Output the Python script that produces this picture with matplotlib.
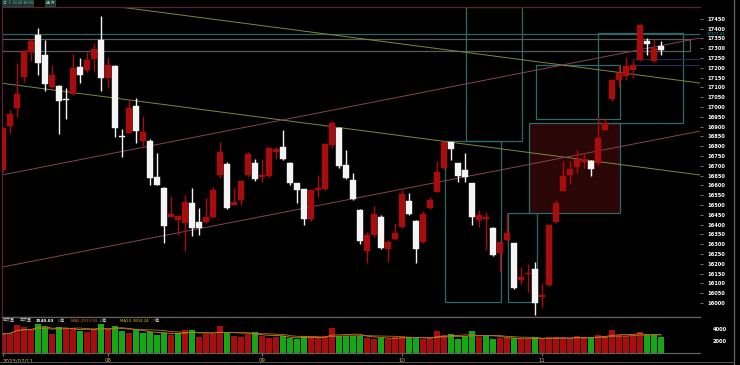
import matplotlib
matplotlib.use('Agg')
import matplotlib.pyplot as plt
from matplotlib.patches import Rectangle
from matplotlib.lines import Line2D
import matplotlib.transforms as mtrans
import numpy as np
import pandas as pd

# ---------------- data ----------------
opens = [16680, 16905, 16994, 17152, 17280, 17368, 17264, 17104, 17107, 17040,
         17066, 17205, 17188, 17244, 17341, 17146, 17209, 16852, 16868, 17005,
         16828, 16828, 16644, 16585, 16440, 16423, 16409, 16511, 16414, 16414,
         16440, 16652, 16709, 16500, 16525, 16655, 16712, 16641, 16646, 16770,
         16797, 16715, 16610, 16580, 16427, 16575, 16580, 16806, 16894, 16704,
         16627, 16474, 16266, 16346, 16440, 16274, 16325, 16386, 16520, 16420,
         16312, 16483, 16568, 16688, 16819, 16712, 16678, 16610, 16423, 16430,
         16384, 16256, 16321, 16304, 16116, 16146, 16171, 16028, 16091, 16414,
         16573, 16652, 16695, 16720, 16726, 16712, 16882, 17039, 17137, 17158,
         17190, 17239, 17335, 17235, 17310]
highs = [16900, 16984, 17224, 17290, 17346, 17402, 17341, 17214, 17110, 17097,
         17270, 17250, 17282, 17328, 17464, 17254, 17212, 16888, 17035, 17045,
         16954, 16835, 16766, 16590, 16545, 16448, 16550, 16586, 16484, 16535,
         16591, 16822, 16720, 16586, 16625, 16770, 16737, 16737, 16797, 16797,
         16882, 16720, 16612, 16582, 16580, 16652, 16815, 16928, 16900, 16780,
         16665, 16480, 16363, 16495, 16450, 16320, 16410, 16577, 16560, 16425,
         16470, 16541, 16726, 16822, 16822, 16715, 16767, 16612, 16474, 16462,
         16390, 16315, 16457, 16306, 16182, 16200, 16211, 16100, 16400, 16525,
         16722, 16722, 16780, 16763, 16730, 16955, 16943, 17140, 17215, 17255,
         17240, 17425, 17350, 17345, 17335]
lows = [16670, 16867, 16949, 17127, 17234, 17163, 17083, 17096, 16862, 16940,
        17060, 17122, 17180, 17180, 17083, 17096, 16845, 16746, 16866, 16815,
        16797, 16601, 16601, 16307, 16440, 16347, 16266, 16341, 16347, 16408,
        16434, 16640, 16480, 16500, 16500, 16645, 16621, 16618, 16641, 16737,
        16728, 16603, 16508, 16398, 16420, 16542, 16575, 16790, 16690, 16630,
        16524, 16300, 16205, 16338, 16275, 16210, 16320, 16380, 16450, 16202,
        16305, 16480, 16565, 16685, 16729, 16619, 16619, 16397, 16389, 16271,
        16240, 16159, 16318, 16070, 16099, 16055, 15940, 15980, 16085, 16410,
        16570, 16605, 16665, 16687, 16648, 16705, 16880, 17030, 17100, 17140,
        17150, 17235, 17265, 17230, 17265]
closes = [16895, 16964, 17066, 17285, 17336, 17226, 17117, 17163, 17030, 17034,
          17200, 17163, 17239, 17295, 17148, 17214, 16894, 16845, 16994, 16877,
          16872, 16636, 16601, 16392, 16454, 16443, 16516, 16380, 16380, 16440,
          16576, 16771, 16483, 16516, 16623, 16760, 16631, 16652, 16789, 16785,
          16733, 16613, 16576, 16427, 16576, 16585, 16810, 16920, 16699, 16636,
          16529, 16317, 16346, 16454, 16278, 16312, 16355, 16556, 16454, 16274,
          16454, 16525, 16670, 16819, 16784, 16647, 16644, 16440, 16448, 16440,
          16245, 16312, 16355, 16075, 16133, 16154, 16001, 16040, 16398, 16508,
          16647, 16686, 16732, 16737, 16682, 16840, 16920, 17137, 17175, 17210,
          17215, 17418, 17320, 17300, 17290]
volumes = [3220, 3430, 4720, 4330, 4050, 4880, 4430, 3220, 4430, 4170,
           4170, 3720, 3610, 4000, 4880, 4000, 4610, 3770, 3440, 3880,
           3330, 3610, 3050, 3440, 3050, 3440, 3880, 3880, 2780, 3220,
           3220, 4550, 3440, 2940, 2780, 3220, 3610, 2880, 2500, 2670,
           2880, 2500, 2330, 2880, 2670, 2670, 2880, 4170, 2940, 2940,
           2940, 2940, 2500, 2330, 2500, 2330, 2780, 2880, 2670, 2500,
           2330, 2500, 3780, 3050, 3160, 2390, 2940, 3720, 2670, 2940,
           2330, 2500, 2500, 2500, 2330, 2330, 2780, 2330, 2670, 2670,
           2500, 2500, 2880, 2670, 2500, 3050, 2880, 3890, 3050, 2880,
           3050, 3500, 3050, 3050, 2670]
vol_up = [1, 1, 1, 1, 1, 0, 0, 1, 0, 1,
          1, 0, 1, 1, 0, 1, 0, 0, 1, 0,
          0, 0, 0, 0, 1, 0, 1, 0, 1, 1,
          1, 1, 0, 1, 1, 1, 0, 1, 1, 1,
          0, 0, 0, 0, 1, 1, 1, 1, 0, 0,
          0, 0, 1, 1, 0, 1, 1, 1, 0, 0,
          1, 1, 1, 1, 0, 0, 0, 0, 1, 0,
          0, 1, 1, 0, 1, 1, 0, 1, 1, 1,
          1, 1, 1, 1, 0, 1, 1, 1, 1, 1,
          1, 1, 0, 0, 0]
month_ticks = [0, 15, 37, 57, 77]
month_labels = ['2023/07/11', '08', '09', '10', '11']
price_ticks = list(range(16000, 17451, 50))
vol_ticks = [2000, 4000]
last_mark = 17371.41
vol_last = '2540.03'
ma5_last = '2913.90'
ma10_last = '3004.24'

# drawn annotations (index, price)
trend_lines = [  # (x0, p0, x1, p1, colour)
    (-0.14, 17121, 99.57, 16653, '#7d8a3a'),
    (16.7, 17510, 99.57, 17122, '#7d8a3a'),
    (-0.14, 16183, 99.57, 16877, '#8a4058'),
    (-0.14, 16653, 99.57, 17352, '#8a4058'),
]
boxes = [  # (x0, p_top, x1, p_bottom, edge, face)
    (66.14, 17510, 74.14, 16826, '#2f6a6a', 'none'),
    (63.14, 16826, 71.14, 16004, '#2f6a6a', 'none'),
    (72.1, 16457, 76.24, 16003, '#2f6a6a', 'none'),
    (75.14, 16916, 88.14, 16460, '#2f6a6a', '#2a0606'),
    (76.14, 17214, 88.14, 16937, '#2f6a6a', 'none'),
    (85.04, 17375, 97.18, 16916, '#2f6a6a', 'none'),
    (-0.14, 17345, 98.14, 17287, '#5a5a5a', 'none'),
]

plt.rcParams['font.family'] = ['DejaVu Sans', 'Noto Sans CJK TC']
CJK = ['Noto Sans CJK TC', 'DejaVu Sans']

W, H = 740, 365
fig = plt.figure(figsize=(W / 100, H / 100), dpi=100, facecolor='black')

ax = fig.add_axes([2 / W, 1 - 316.7 / H, 698 / W, (316.7 - 7) / H])
axv = fig.add_axes([2 / W, 1 - 353.3 / H, 698 / W, (353.3 - 316.7) / H], sharex=ax)
for a in (ax, axv):
    a.set_facecolor('black')

n = len(opens)
idx = np.arange(n)
RED = '#a80c0c'
WHITE = '#f4f4f4'

# annotations behind candles
for x0, pt, x1, pb, ec, fc in boxes:
    ax.add_patch(Rectangle((x0, pb), x1 - x0, pt - pb, facecolor=fc,
                           edgecolor=ec, lw=0.9, zorder=1))
ax.axhline(last_mark, color='#2a6464', lw=0.9, zorder=1)
ax.plot([90, 99.57], [17243, 17243], color='#2a2a58', lw=0.8, zorder=1)
ax.plot([90, 99.57], [17214, 17214], color='#2a2a58', lw=0.8, zorder=1)
for x0, p0, x1, p1, c in trend_lines:
    ax.plot([x0, x1], [p0, p1], color=c, lw=0.7, zorder=2)

for i in idx:
    o, h, l, c = opens[i], highs[i], lows[i], closes[i]
    col = RED if c >= o else WHITE
    ax.vlines(i, l, h, color=col, lw=1.0, zorder=3)
    bot = min(o, c)
    ht = max(abs(c - o), 5)
    ax.add_patch(Rectangle((i - 0.42, bot), 0.84, ht, facecolor=col,
                           edgecolor=col, lw=0.3, zorder=4))

ax.set_xlim(-1 / 7, 697 / 7)
ax.set_ylim(15930, 17510)
ax.yaxis.tick_right()
ax.set_yticks(price_ticks)
ax.set_yticklabels([str(t) for t in price_ticks], fontsize=3.7, color='white',
                   fontweight='bold')
ax.tick_params(axis='y', length=2.5, width=0.6, color='#888888', pad=3)
ax.tick_params(axis='x', bottom=False, labelbottom=False)
for s in ('top', 'left'):
    ax.spines[s].set_color('#5c1f33')
    ax.spines[s].set_linewidth(0.9)
ax.spines['right'].set_visible(False)
ax.spines['bottom'].set_color('#606060')
ax.spines['bottom'].set_linewidth(0.9)

tr = mtrans.blended_transform_factory(ax.transAxes, ax.transData)
ax.text(1.01, last_mark, f'{last_mark:.2f}', transform=tr, fontsize=2.9,
        color='#2fa0a0', va='center', ha='left', clip_on=False)

# volume
vcol = [RED if u else '#14a814' for u in vol_up]
axv.bar(idx, volumes, width=0.9, color=vcol, zorder=2)
vs = pd.Series(volumes, dtype=float)
axv.plot(idx, vs.rolling(5, min_periods=1).mean(), color='#e07020', lw=0.6, zorder=3)
axv.plot(idx, vs.rolling(10, min_periods=1).mean(), color='#a08020', lw=0.6, zorder=3)
axv.set_ylim(0, 6100)
axv.yaxis.tick_right()
axv.set_yticks(vol_ticks)
axv.set_yticklabels([str(t) for t in vol_ticks], fontsize=3.7, color='white',
                    fontweight='bold')
axv.tick_params(axis='y', length=0, pad=9)
axv.set_xticks(month_ticks)
axv.set_xticklabels(month_labels, fontsize=3.9, color='#c8b46e')
axv.tick_params(axis='x', length=2, width=0.6, color='#888888', pad=1.5)
lbls = axv.get_xticklabels()
lbls[0].set_horizontalalignment('left')
axv.spines['left'].set_color('#5c1f33')
axv.spines['right'].set_visible(False)
for s in ('top', 'bottom'):
    axv.spines[s].set_color('#606060')
    axv.spines[s].set_linewidth(0.9)

# header texts of volume panel
ty = 1 - 320.5 / H
fs = 2.9
fig.text(3 / W, ty, '成交量', fontsize=fs, color='#d0d0d0', va='center', family=CJK)
fig.text(20 / W, ty, '成交量', fontsize=fs, color='#d0d0d0', va='center', family=CJK)
fig.text(36 / W, ty, vol_last, fontsize=fs, color='white', va='center',
         fontweight='bold')
fig.text(56 / W, ty, '↓', fontsize=fs, color='#20c020', va='center')
fig.text(59.5 / W, ty, '億', fontsize=fs, color='#d0d0d0', va='center', family=CJK)
fig.text(71 / W, ty, 'MA5 ' + ma5_last, fontsize=fs, color='#e07020', va='center')
fig.text(98.5 / W, ty, '↓', fontsize=fs, color='#20c020', va='center')
fig.text(102 / W, ty, '億', fontsize=fs, color='#d0d0d0', va='center', family=CJK)
fig.text(120 / W, ty, 'MA10 ' + ma10_last, fontsize=fs, color='#e0c020', va='center')
fig.text(151 / W, ty, '↑', fontsize=fs, color='#e02020', va='center')
fig.text(154.5 / W, ty, '億', fontsize=fs, color='#d0d0d0', va='center', family=CJK)

# top tab strip
fig.text(3 / W, 1 - 3 / H, '日  5  10 20 30 60', fontsize=2.8, color='#8fc0b0',
         va='center', family=CJK,
         bbox=dict(boxstyle='square,pad=0.15', fc='#1c3430', ec='#3a6a60', lw=0.4))
fig.text(46 / W, 1 - 3 / H, '週 月', fontsize=2.8, color='#8fc0b0',
         va='center', family=CJK,
         bbox=dict(boxstyle='square,pad=0.15', fc='#1c3430', ec='#3a6a60', lw=0.4))

# outer right border and bottom line
fig.add_artist(Line2D([734 / W, 734 / W], [0, 1], color='#666666', lw=0.9))
fig.add_artist(Line2D([0, 734 / W], [1 - 362 / H, 1 - 362 / H], color='#555555', lw=0.7))

fig.savefig('out.png', dpi=100, facecolor='black')
